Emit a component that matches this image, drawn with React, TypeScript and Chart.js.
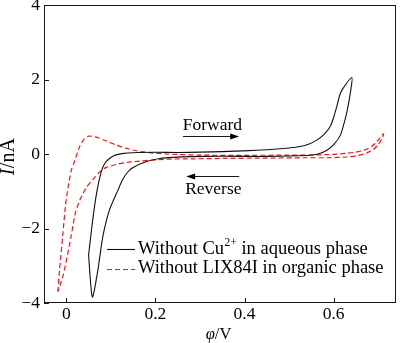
import React, { useEffect, useRef } from 'react';
import { Chart, registerables } from 'chart.js';

Chart.register(...registerables);

// Black curve: without Cu2+ in aqueous phase (forward then reverse, closed loop)
const blackX = [
  0.050, 0.058, 0.066, 0.073, 0.080, 0.087, 0.097, 0.110, 0.125, 0.150, 0.200, 0.250,
  0.300, 0.350, 0.410, 0.460, 0.500, 0.525, 0.545, 0.563, 0.578, 0.592, 0.600, 0.607,
  0.613, 0.619, 0.641,
  0.637, 0.631, 0.624, 0.615, 0.600, 0.585, 0.565, 0.540, 0.450, 0.350, 0.280, 0.240,
  0.210, 0.180, 0.150, 0.139, 0.126, 0.116, 0.097, 0.082, 0.071, 0.0585, 0.050,
];
const blackY = [
  -2.71, -1.90, -1.20, -0.75, -0.42, -0.24, -0.12, -0.03, 0.01, 0.035, 0.045, 0.04,
  0.05, 0.065, 0.09, 0.12, 0.16, 0.20, 0.27, 0.38, 0.52, 0.73, 0.98, 1.27,
  1.55, 1.72, 2.05,
  1.60, 1.20, 0.85, 0.50, 0.25, 0.10, 0.0, -0.04, -0.065, -0.06, -0.07, -0.09,
  -0.12, -0.20, -0.36, -0.47, -0.70, -0.97, -1.50, -2.22, -3.11, -3.84, -2.71,
];

// Red dashed curve: without LIX84I in organic phase
const redX = [
  -0.019, -0.015, -0.008, -0.002, 0.004, 0.011, 0.019, 0.030, 0.040, 0.050, 0.065, 0.090,
  0.112, 0.135, 0.160, 0.187, 0.225, 0.300, 0.400, 0.500, 0.560, 0.600, 0.630, 0.650,
  0.670, 0.685, 0.697, 0.712,
  0.708, 0.700, 0.690, 0.675, 0.655, 0.630, 0.585, 0.540, 0.450, 0.350, 0.285, 0.225,
  0.165, 0.135, 0.112, 0.090, 0.075, 0.060, 0.045, 0.030, 0.020, 0.011, 0.003, -0.008,
  -0.019,
];
const redY = [
  -3.70, -3.10, -2.20, -1.40, -0.90, -0.45, -0.18, 0.20, 0.40, 0.48, 0.46, 0.35,
  0.24, 0.15, 0.08, 0.035, 0.0, -0.03, -0.035, -0.03, -0.025, -0.01, 0.02, 0.05,
  0.11, 0.20, 0.33, 0.54,
  0.40, 0.25, 0.13, 0.03, -0.04, -0.08, -0.10, -0.10, -0.11, -0.12, -0.13, -0.14,
  -0.19, -0.23, -0.28, -0.36, -0.48, -0.68, -0.90, -1.25, -1.60, -2.20, -2.70, -3.30,
  -3.70,
];

const xTicks = [0, 0.2, 0.4, 0.6];
const yTicks = [-4, -2, 0, 2, 4];

const legendLabels = [
  ['Without Cu', '2+', ' in aqueous phase'],
  ['Without LIX84I in organic phase', '', ''],
];

const FONT = "'Liberation Serif', 'Times New Roman', Times, serif";
const FS = 17.5;
const LFS = 18.5;

const toPts = (xs: number[], ys: number[]) => xs.map((x, i) => ({ x, y: ys[i] }));
const fmt = (v: number) => {
  const s = Math.abs(v) < 1e-9 ? '0' : String(Math.round(v * 10) / 10);
  return s.replace('-', '\u2212');
};

const decor = {
  id: 'decor',
  afterDraw(chart: any) {
    const { ctx, chartArea: a, scales } = chart;
    const xs = scales.x;
    const ys = scales.y;
    ctx.save();
    ctx.strokeStyle = '#1a1a1a';
    ctx.fillStyle = '#000';
    ctx.lineWidth = 1;
    // frame
    ctx.strokeRect(a.left + 0.5, a.top + 0.5, a.right - a.left - 1, a.bottom - a.top - 1);
    // inward ticks
    ctx.beginPath();
    xTicks.forEach((v) => {
      const px = Math.round(xs.getPixelForValue(v)) + 0.5;
      ctx.moveTo(px, a.bottom);
      ctx.lineTo(px, a.bottom - 5);
    });
    yTicks.forEach((v) => {
      const py = Math.round(ys.getPixelForValue(v)) + 0.5;
      ctx.moveTo(a.left, py);
      ctx.lineTo(a.left + 5, py);
    });
    ctx.stroke();

    // tick labels
    ctx.font = `${FS}px ${FONT}`;
    ctx.textBaseline = 'top';
    ctx.textAlign = 'center';
    xTicks.forEach((v) => {
      ctx.fillText(fmt(v), xs.getPixelForValue(v), a.bottom + 3);
    });
    ctx.textBaseline = 'middle';
    ctx.textAlign = 'right';
    yTicks.forEach((v) => {
      ctx.fillText(fmt(v), a.left - 4, ys.getPixelForValue(v));
    });

    // axis titles
    ctx.textBaseline = 'middle';
    ctx.textAlign = 'left';
    const YT = 20;
    ctx.save();
    ctx.translate(9, 157);
    ctx.rotate(-Math.PI / 2);
    ctx.font = `italic ${YT}px ${FONT}`;
    const wI = ctx.measureText('I').width;
    ctx.font = `${YT}px ${FONT}`;
    const wR = ctx.measureText('/nA').width;
    let sx = -(wI + wR) / 2;
    ctx.font = `italic ${YT}px ${FONT}`;
    ctx.fillText('I', sx, 0);
    ctx.font = `${YT}px ${FONT}`;
    ctx.fillText('/nA', sx + wI + 0.5, 0);
    ctx.restore();
    const XT = 16.5;
    ctx.font = `italic ${XT}px ${FONT}`;
    const wp = ctx.measureText('\u03C6').width;
    ctx.font = `${XT}px ${FONT}`;
    const wv = ctx.measureText('/V').width;
    sx = 218.5 - (wp + wv) / 2;
    ctx.font = `italic ${XT}px ${FONT}`;
    ctx.fillText('\u03C6', sx, 335);
    ctx.font = `${XT}px ${FONT}`;
    ctx.fillText('/V', sx + wp, 335);

    // Forward / Reverse annotations
    const drawArrow = (x0: number, x1: number, y: number) => {
      const p0 = xs.getPixelForValue(x0);
      const p1 = xs.getPixelForValue(x1);
      const py = Math.round(ys.getPixelForValue(y)) + 0.5;
      const dir = Math.sign(p1 - p0);
      ctx.beginPath();
      ctx.moveTo(p0, py);
      ctx.lineTo(p1 - dir * 6, py);
      ctx.stroke();
      ctx.beginPath();
      ctx.moveTo(p1, py);
      ctx.lineTo(p1 - dir * 9, py - 3);
      ctx.lineTo(p1 - dir * 9, py + 3);
      ctx.closePath();
      ctx.fill();
    };
    ctx.font = `${FS}px ${FONT}`;
    ctx.textAlign = 'center';
    ctx.fillText('Forward', xs.getPixelForValue(0.328), ys.getPixelForValue(0.78));
    drawArrow(0.262, 0.388, 0.48);
    ctx.fillText('Reverse', xs.getPixelForValue(0.33), ys.getPixelForValue(-0.94));
    drawArrow(0.388, 0.269, -0.60);

    // legend
    const ds = chart.data.datasets;
    const lx = a.left + 63;
    const rows = [a.bottom - 54, a.bottom - 34.5];
    rows.forEach((ry, i) => {
      const d = ds[i];
      ctx.save();
      ctx.strokeStyle = d.borderColor;
      ctx.lineWidth = d.borderWidth;
      ctx.setLineDash(d.borderDash || []);
      ctx.beginPath();
      ctx.moveTo(lx, Math.round(ry) + 0.5);
      ctx.lineTo(lx + 28, Math.round(ry) + 0.5);
      ctx.stroke();
      ctx.restore();
      const [p1, sup, p2] = legendLabels[i];
      ctx.textAlign = 'left';
      ctx.font = `${LFS}px ${FONT}`;
      let tx = lx + 31;
      ctx.fillText(p1, tx, ry);
      tx += ctx.measureText(p1).width;
      if (sup) {
        ctx.font = `${LFS * 0.62}px ${FONT}`;
        ctx.fillText(sup, tx + 0.5, ry - 6);
        tx += ctx.measureText(sup).width + 0.5;
        ctx.font = `${LFS}px ${FONT}`;
      }
      if (p2) ctx.fillText(p2, tx, ry);
    });
    ctx.restore();
  },
};

export default function App() {
  const ref = useRef<HTMLCanvasElement | null>(null);
  useEffect(() => {
    document.body.style.margin = '0';
    const canvas = ref.current;
    if (!canvas) return;
    const chart = new Chart(canvas, {
      type: 'scatter',
      data: {
        datasets: [
          {
            label: 'Without Cu2+ in aqueous phase',
            data: toPts(blackX, blackY),
            showLine: true,
            borderColor: '#111111',
            borderWidth: 1.1,
            pointRadius: 0,
            tension: 0.25,
            fill: false,
          },
          {
            label: 'Without LIX84I in organic phase',
            data: toPts(redX, redY),
            showLine: true,
            borderColor: '#f0141e',
            borderWidth: 1.2,
            borderDash: [5, 3],
            pointRadius: 0,
            tension: 0.25,
            fill: false,
          },
        ],
      },
      options: {
        responsive: false,
        animation: false,
        layout: { padding: { left: 0, right: 4, top: 5, bottom: 0 } },
        plugins: { legend: { display: false }, tooltip: { enabled: false } },
        scales: {
          x: {
            type: 'linear',
            min: -0.05,
            max: 0.74,
            afterFit: (s: any) => {
              s.height = 40;
              s.paddingLeft = 0;
              s.paddingRight = 0;
            },
            afterBuildTicks: (s: any) => {
              s.ticks = xTicks.map((v) => ({ value: v }));
            },
            grid: { display: false, drawTicks: false },
            border: { display: false },
            ticks: { display: false },
          },
          y: {
            type: 'linear',
            min: -4,
            max: 4,
            afterFit: (s: any) => {
              s.width = 44;
              s.paddingTop = 0;
              s.paddingBottom = 0;
            },
            afterBuildTicks: (s: any) => {
              s.ticks = yTicks.map((v) => ({ value: v }));
            },
            grid: { display: false, drawTicks: false },
            border: { display: false },
            ticks: { display: false },
          },
        },
      },
      plugins: [decor],
    });
    let alive = true;
    if ((document as any).fonts && (document as any).fonts.load) {
      Promise.all([
        (document as any).fonts.load(`${FS}px 'Liberation Serif'`),
        (document as any).fonts.load(`italic ${FS}px 'Liberation Serif'`),
      ]).then(() => {
        if (alive) chart.update('none');
      }).catch(() => {});
    }
    return () => {
      alive = false;
      chart.destroy();
    };
  }, []);
  return (
    <div style={{ position: 'absolute', left: 0, top: 0, width: 400, height: 343 }}>
      <canvas ref={ref} width={400} height={343} style={{ display: 'block' }} />
    </div>
  );
}
